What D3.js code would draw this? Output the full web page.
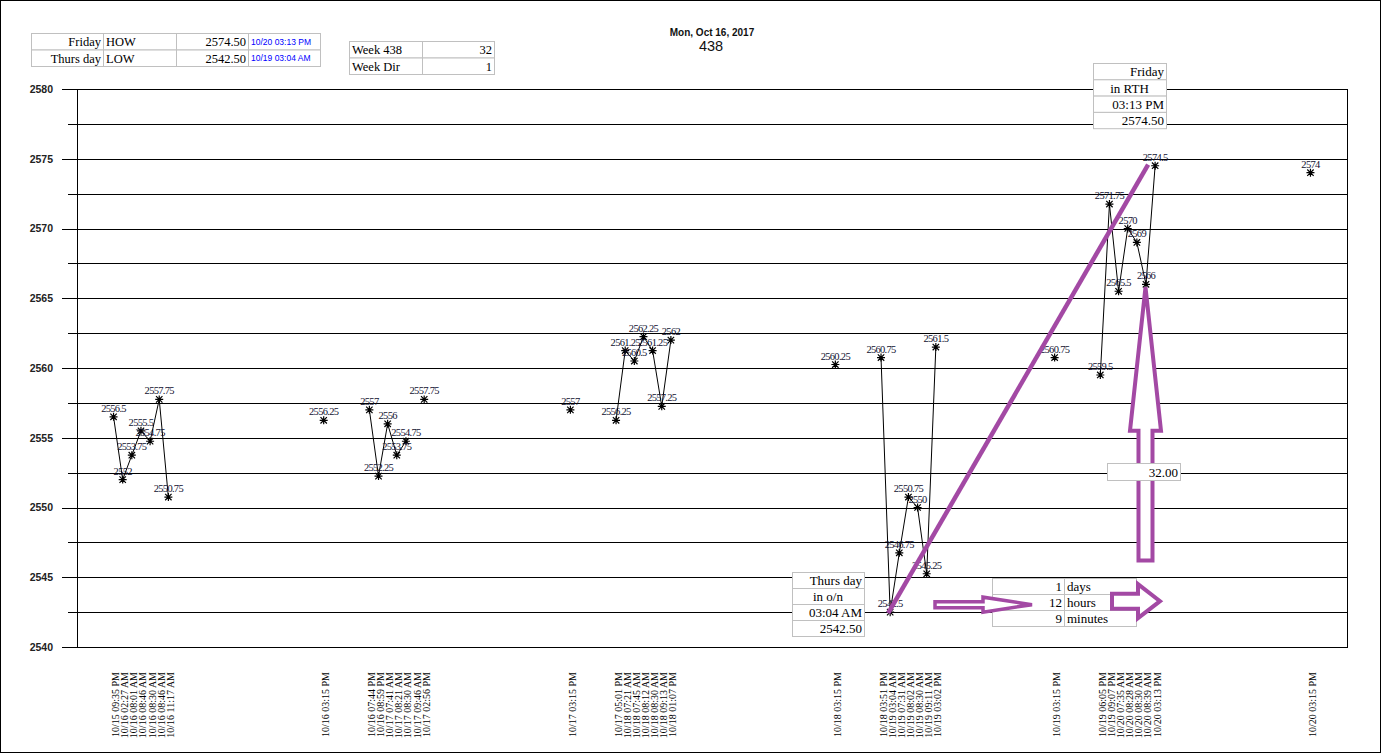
<!DOCTYPE html>
<html>
<head>
<meta charset="utf-8">
<script src="https://d3js.org/d3.v7.min.js"></script>
<style>
  body { margin: 0; background: #fff; }
  svg { display: block; }
</style>
</head>
<body>
<svg id="chart" width="1382" height="754"></svg>
<script>
// x categories of the series (blank category slots sit between the groups)
const times = [
  '10/15 09:35 PM', '10/16 02:27 AM', '10/16 08:01 AM', '10/16 08:46 AM', '10/16 08:30 AM', '10/16 08:46 AM', '10/16 11:17 AM',
  '10/16 03:15 PM',
  '10/16 07:44 PM', '10/16 08:59 PM', '10/17 07:41 AM', '10/17 08:21 AM', '10/17 08:30 AM', '10/17 09:46 AM', '10/17 02:56 PM',
  '10/17 03:15 PM',
  '10/17 05:01 PM', '10/18 07:21 AM', '10/18 07:45 AM', '10/18 08:12 AM', '10/18 08:30 AM', '10/18 09:13 AM', '10/18 01:07 PM',
  '10/18 03:15 PM',
  '10/18 03:51 PM', '10/19 03:04 AM', '10/19 07:31 AM', '10/19 08:02 AM', '10/19 08:30 AM', '10/19 09:11 AM', '10/19 03:02 PM',
  '10/19 03:15 PM',
  '10/19 06:05 PM', '10/19 09:07 PM', '10/20 07:35 AM', '10/20 08:28 AM', '10/20 08:30 AM', '10/20 08:39 AM', '10/20 03:13 PM',
  '10/20 03:15 PM'
]
// category index of each time on the axis (140 slots, 0..139)
const slots = [
  4, 5, 6, 7, 8, 9, 10,
  27,
  32, 33, 34, 35, 36, 37, 38,
  54,
  59, 60, 61, 62, 63, 64, 65,
  83,
  88, 89, 90, 91, 92, 93, 94,
  107,
  112, 113, 114, 115, 116, 117, 118,
  135
]
const prices = [
  2556.5, 2552, 2553.75, 2555.5, 2554.75, 2557.75, 2550.75,
  2556.25,
  2557, 2552.25, 2556, 2553.75, 2554.75, null, 2557.75,
  2557,
  2556.25, 2561.25, 2560.5, 2562.25, 2561.25, 2557.25, 2562,
  2560.25,
  2560.75, 2542.5, 2546.75, 2550.75, 2550, 2545.25, 2561.5,
  2560.75,
  2559.5, 2571.75, 2565.5, 2570, 2569, 2566, 2574.5,
  2574
]
const slotCount = 140
const yMin = 2540, yMax = 2580
const yLabelTicks = d3.range(2540, 2581, 5)
const yGridTicks = d3.range(2540, 2581, 2.5)

const titleText = 'Mon, Oct 16, 2017'
const subTitle = '438'

const hiLoRows = [
  ['Friday', 'HOW', '2574.50', '10/20 03:13 PM'],
  ['Thurs day', 'LOW', '2542.50', '10/19 03:04 AM']
]
const weekRows = [['Week 438', '32'], ['Week Dir', '1']]
const highBox = ['Friday', 'in RTH', '03:13 PM', '2574.50']
const lowBox = ['Thurs day', 'in o/n', '03:04 AM', '2542.50']
const spanRows = [['1', 'days'], ['12', 'hours'], ['9', 'minutes']]
const rangeText = '32.00'

const purple = '#a349a4'
const serif = "'Liberation Serif', 'Times New Roman', serif"
const sans = "'Liberation Sans', Arial, sans-serif"

const svg = d3.select('#chart')
const margin = { left: 77, right: 1347, top: 89, bottom: 647 }

const x = d3.scaleLinear().domain([0, slotCount - 1]).range([margin.left, margin.right])
const y = d3.scaleLinear().domain([yMin, yMax]).range([margin.bottom, margin.top])

// frame round the whole picture
svg.append('rect')
  .attr('x', 0.5).attr('y', 0.5).attr('width', 1380).attr('height', 752)
  .attr('fill', 'none').attr('stroke', '#000')

// title
svg.append('text')
  .attr('x', 712).attr('y', 36).attr('text-anchor', 'middle')
  .style('font', `bold 10px ${sans}`).attr('fill', '#111')
  .text(titleText)
svg.append('text')
  .attr('x', 711).attr('y', 51).attr('text-anchor', 'middle')
  .style('font', `14.5px ${sans}`).attr('fill', '#111')
  .text(subTitle)

// grid lines, major ones run out a little further left
svg.append('g').selectAll('line')
  .data(yGridTicks)
  .enter()
  .append('line')
  .attr('x1', d => d % 5 === 0 ? 62 : 68)
  .attr('x2', margin.right)
  .attr('y1', d => Math.round(y(d)) + 0.5)
  .attr('y2', d => Math.round(y(d)) + 0.5)
  .attr('stroke', '#000')

// plot area sides
svg.append('line')
  .attr('x1', margin.left + 0.5).attr('x2', margin.left + 0.5)
  .attr('y1', margin.top).attr('y2', margin.bottom + 1)
  .attr('stroke', '#000')
svg.append('line')
  .attr('x1', margin.right + 0.5).attr('x2', margin.right + 0.5)
  .attr('y1', margin.top).attr('y2', margin.bottom + 1)
  .attr('stroke', '#000')

// y labels
const yAxis = svg.append('g')
  .attr('transform', 'translate(62,0)')
  .call(d3.axisLeft(y).tickValues(yLabelTicks).tickSize(0).tickPadding(9).tickFormat(d3.format('d')))
yAxis.select('.domain').remove()
yAxis.selectAll('text')
  .style('font', `bold 10.5px ${sans}`)
  .attr('fill', '#222')

const points = times.map((t, i) => ({ t: t, s: slots[i], v: prices[i] }))

// x labels, rotated
svg.append('g').selectAll('text')
  .data(points)
  .enter()
  .append('text')
  .attr('transform', d => `translate(${x(d.s) + 2},672) rotate(-90)`)
  .attr('text-anchor', 'end')
  .attr('dy', '0.35em')
  .style('font', `10px ${serif}`)
  .attr('fill', '#000')
  .text(d => d.t)

// series line: joins neighbouring categories only, gaps where a category is empty
const segments = []
points.forEach((p, i) => {
  const n = points[i + 1]
  if (n && p.v != null && n.v != null && n.s === p.s + 1) segments.push([p, n])
})
const line = d3.line().x(d => x(d.s)).y(d => y(d.v))
svg.append('g').selectAll('path')
  .data(segments)
  .enter()
  .append('path')
  .attr('d', line)
  .attr('fill', 'none')
  .attr('stroke', '#000')
  .attr('stroke-width', 1)

const valued = points.filter(d => d.v != null)

// star markers
const r = 4
const starPath = `M0,${-r}V${r}M${-r},0H${r}M${-r * 0.8},${-r * 0.8}L${r * 0.8},${r * 0.8}M${-r * 0.8},${r * 0.8}L${r * 0.8},${-r * 0.8}`
svg.append('g').selectAll('path')
  .data(valued)
  .enter()
  .append('path')
  .attr('transform', d => `translate(${x(d.s)},${y(d.v)})`)
  .attr('d', starPath)
  .attr('stroke', '#000')
  .attr('stroke-width', 1.2)

// data labels
svg.append('g').selectAll('text')
  .data(valued)
  .enter()
  .append('text')
  .attr('x', d => x(d.s))
  .attr('y', d => y(d.v) - 5)
  .attr('text-anchor', 'middle')
  .style('font', `10.5px ${serif}`)
  .style('letter-spacing', '-0.7px')
  .attr('fill', '#101030')
  .text(d => d3.format('')(d.v))

// purple move line from week low to week high
const low = valued.reduce((a, b) => b.v < a.v ? b : a)
const high = valued.reduce((a, b) => b.v > a.v ? b : a)
svg.append('line')
  .attr('x1', x(low.s) - 2).attr('y1', y(low.v) + 1)
  .attr('x2', x(high.s) - 7).attr('y2', y(high.v) - 1)
  .attr('stroke', purple)
  .attr('stroke-width', 4.5)

// outlined arrows
function hArrow(x0, x1, headX, yc, shaftH, headH, sw) {
  const pts = [[x0, yc - shaftH], [headX, yc - shaftH], [headX, yc - headH], [x1, yc],
    [headX, yc + headH], [headX, yc + shaftH], [x0, yc + shaftH]]
  svg.append('polygon')
    .attr('points', pts.map(p => p.join(',')).join(' '))
    .attr('fill', '#fff').attr('stroke', purple).attr('stroke-width', sw)
}
function vArrow(xc, yBottom, yTip, headY, shaftW, headW, sw) {
  const pts = [[xc - shaftW, yBottom], [xc + shaftW, yBottom], [xc + shaftW, headY], [xc + headW, headY],
    [xc, yTip], [xc - headW, headY], [xc - shaftW, headY]]
  svg.append('polygon')
    .attr('points', pts.map(p => p.join(',')).join(' '))
    .attr('fill', '#fff').attr('stroke', purple).attr('stroke-width', sw)
}

// up arrow under the high of the Friday session
vArrow(x(117) - 0.5, y(2546.2), y(2566) + 3, y(2555.5), 7, 15.5, 4)

// table drawing, aligns is per column or, with byRow, per row
function table(x0, y0, colW, rowH, rows, aligns, opts = {}) {
  const g = svg.append('g')
  rows.forEach((row, ri) => {
    let cx = x0
    row.forEach((cell, ci) => {
      const w = colW[ci]
      const ty = y0 + ri * rowH
      g.append('rect')
        .attr('x', cx + 0.5).attr('y', ty + 0.5).attr('width', w).attr('height', rowH)
        .attr('fill', '#fff').attr('stroke', '#c0c0c0')
      const a = opts.byRow ? aligns[ri] : aligns[ci]
      const tx = a === 'end' ? cx + w - 2 : a === 'middle' ? cx + w / 2 : cx + 3
      const f = (opts.fonts && opts.fonts[ci]) || `${opts.size || 12.5}px ${serif}`
      g.append('text')
        .attr('x', tx).attr('y', ty + rowH / 2 + 0.5)
        .attr('dy', '0.35em')
        .attr('text-anchor', a)
        .style('font', f)
        .attr('fill', (opts.colors && opts.colors[ci]) || '#000')
        .text(cell)
      cx += w
    })
  })
}

table(31, 33, [72, 73, 72, 72], 16.5, hiLoRows, ['end', 'start', 'end', 'start'],
  { fonts: [null, null, null, `8.5px ${sans}`], colors: [null, null, null, '#0000ff'] })
table(349, 41, [73, 72], 16.5, weekRows, ['start', 'end'])

const boxAligns = ['end', 'middle', 'end', 'end']
table(1093, 63, [73], 16.3, highBox.map(d => [d]), boxAligns, { size: 13, byRow: true })
table(792, 572, [72], 16, lowBox.map(d => [d]), boxAligns, { size: 13, byRow: true })
table(992, 578, [72, 72], 16, spanRows, ['end', 'start'], { size: 13 })
table(1107, 463, [73], 17, [[rangeText]], ['end'], { size: 13 })

// right arrows along the time span
hArrow(935, 1032, 983, y(2543) - 0.5, 3, 7.5, 3.5)
hArrow(1112, 1160, 1138, y(2543) - 4, 7.5, 17, 4)
</script>
</body>
</html>
